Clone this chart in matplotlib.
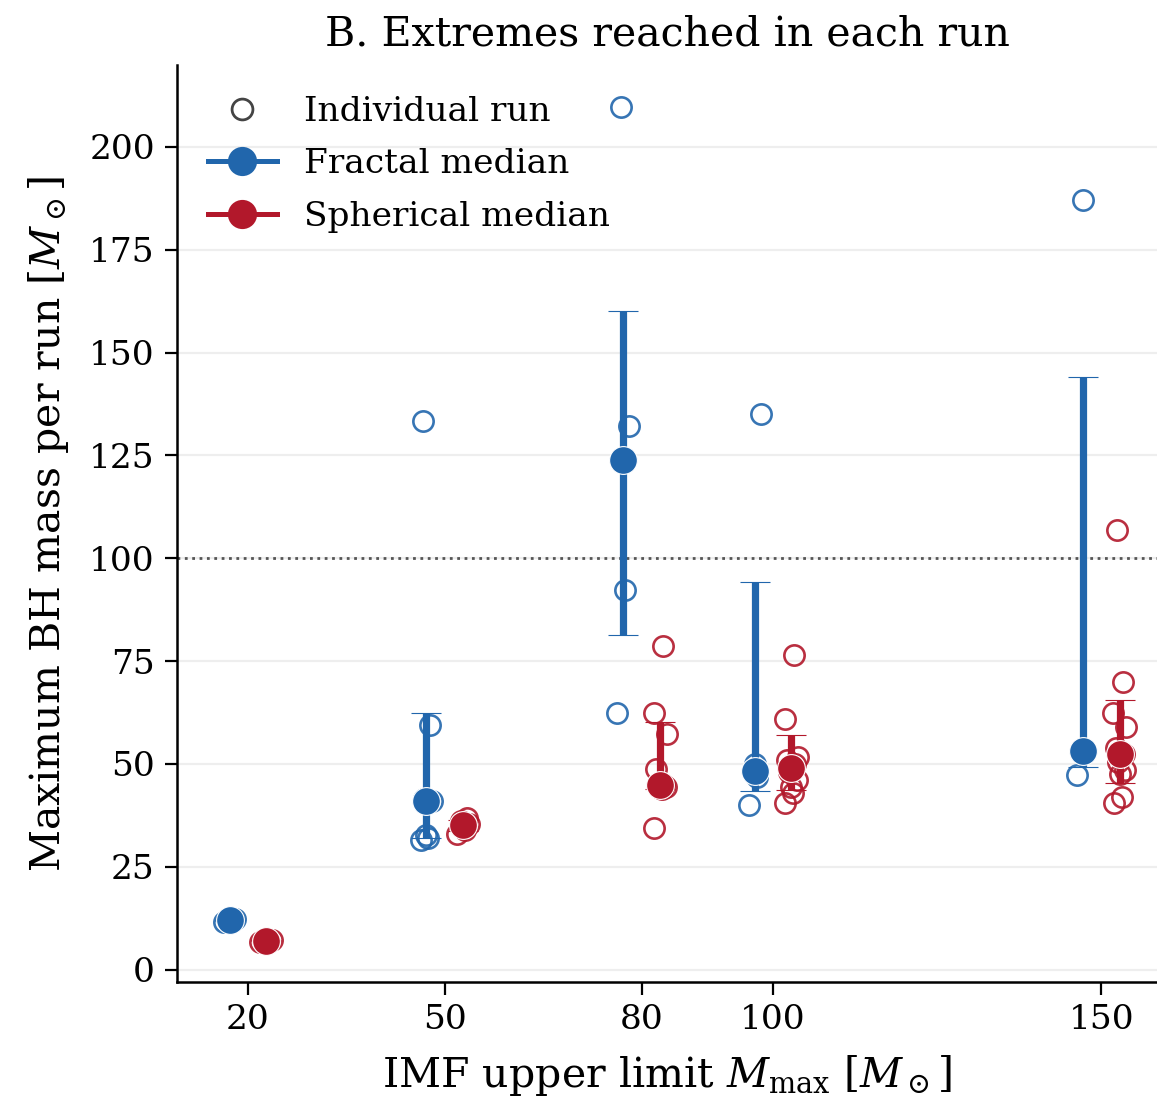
import numpy as np
import matplotlib
matplotlib.use("Agg")
import matplotlib.pyplot as plt
from matplotlib.lines import Line2D

# IMF upper limits (Msun)
mmax_values = [20, 50, 80, 100, 150]
tick_labels = ["20", "50", "80", "100", "150"]

# Maximum BH mass reached in each run (Msun), per IMF upper limit
fractal_runs = {
    20: [11.6, 11.9, 12.1, 12.3, 12.0],
    50: [31.6, 32.1, 32.8, 41.0, 41.6, 59.4, 133.3],
    80: [62.3, 92.2, 123.8, 132.1, 209.7],
    100: [40.1, 46.8, 50.0, 135.0],
    150: [47.4, 53.1, 187.0],
}
spherical_runs = {
    20: [6.8, 7.0, 7.3, 7.1],
    50: [33.0, 34.0, 35.0, 35.5, 36.2, 36.8],
    80: [34.5, 43.8, 44.2, 44.5, 44.6, 45.0, 48.7, 57.2, 62.5, 78.6],
    100: [40.6, 43.0, 44.5, 46.0, 48.0, 50.0, 51.0, 51.8, 61.0, 76.5],
    150: [40.5, 42.0, 47.5, 48.5, 50.5, 52.5, 54.0, 59.0, 62.5, 70.0, 107.0],
}
reference_mass = 100

# ---- styling ----
BLUE = "#2166ac"
RED = "#b2182b"
GROUP_SHIFT = 2.8
JITTER = [-0.9, 0.3, 0.0, 0.9, -0.3, 0.6, -0.6, 1.0, -1.0, 0.45, -0.45]

plt.rcParams["font.family"] = "DejaVu Serif"
plt.rcParams["mathtext.fontset"] = "dejavuserif"

fig = plt.figure(figsize=(5.785, 5.48), dpi=200)
ax = fig.add_axes([0.153, 0.104, 0.847, 0.837])


def draw_group(runs, shift, color):
    for m in mmax_values:
        vals = np.asarray(runs[m], dtype=float)
        xs = np.array([m + shift + JITTER[i % len(JITTER)] for i in range(len(vals))])
        ax.plot(xs, vals, "o", ms=7.3, mfc="none", mec=color, mew=0.95,
                alpha=0.9, zorder=2)
        med = np.median(vals)
        lo, hi = np.percentile(vals, [16, 84])
        ax.errorbar([m + shift], [med], yerr=[[med - lo], [hi - med]],
                    fmt="o", ms=10, color=color, mfc=color, mec="white",
                    mew=0.4, elinewidth=2.6, capsize=5.5, capthick=1.6,
                    zorder=3)


draw_group(fractal_runs, -GROUP_SHIFT, BLUE)
draw_group(spherical_runs, GROUP_SHIFT, RED)

ax.axhline(reference_mass, color="#555555", ls=":", lw=1.0, zorder=1)

ax.set_xlim(9.2, 158.5)
ax.set_ylim(-3, 220)
ax.set_xticks(mmax_values)
ax.set_xticklabels(tick_labels)
ax.set_yticks(np.arange(0, 201, 25))
ax.yaxis.grid(True, color="#eeeeee", lw=0.8, zorder=0)
ax.set_axisbelow(True)
ax.tick_params(labelsize=12.4, length=4.5, width=0.8)

for side in ("top", "right"):
    ax.spines[side].set_visible(False)
for side in ("left", "bottom"):
    ax.spines[side].set_linewidth(0.9)

ax.set_xlabel(r"IMF upper limit $M_{\rm max}$ [$M_\odot$]", fontsize=14.8,
              labelpad=6)
ax.set_ylabel(r"Maximum BH mass per run [$M_\odot$]", fontsize=14.8,
              labelpad=6.5)
ax.set_title("B. Extremes reached in each run", fontsize=14.8, pad=7)

handles = [
    Line2D([], [], ls="none", marker="o", ms=7.5, mfc="none", mec="#444444",
           mew=1.0),
    Line2D([], [], color=BLUE, lw=1.8, marker="o", ms=9.5),
    Line2D([], [], color=RED, lw=1.8, marker="o", ms=9.5),
]
ax.legend(handles, ["Individual run", "Fractal median", "Spherical median"],
          loc="upper left", frameon=False, fontsize=12.4, handlelength=2.0,
          labelspacing=0.6, borderaxespad=0.5)

fig.savefig("out.png", dpi=200)
